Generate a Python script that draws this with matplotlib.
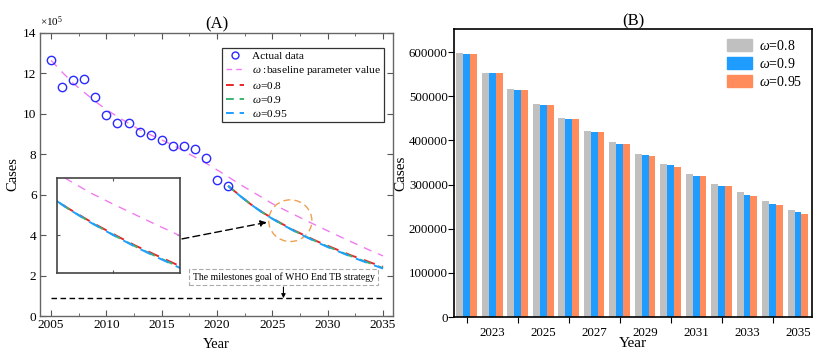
import matplotlib
matplotlib.use("Agg")
import matplotlib.pyplot as plt
import numpy as np
from matplotlib.patches import Ellipse, Patch
from matplotlib.lines import Line2D

plt.rcParams['font.family'] = ['Liberation Serif', 'DejaVu Serif']
plt.rcParams['mathtext.fontset'] = 'custom'
plt.rcParams['mathtext.rm'] = 'Liberation Serif'
plt.rcParams['mathtext.it'] = 'Liberation Serif:italic'

# ---------------- data ----------------
actual_years = list(range(2005, 2022))
actual_cases = [12.63, 11.32, 11.66, 11.72, 10.8, 9.95, 9.55, 9.53, 9.08, 8.93,
                8.68, 8.39, 8.38, 8.27, 7.79, 6.72, 6.43]  # x10^5

baseline_years = list(range(2005, 2036))
baseline_cases = [12.63, 12.05, 11.5, 11.05, 10.6, 10.2, 9.85, 9.52, 9.2, 8.95,
                  8.7, 8.45, 8.15, 7.85, 7.55, 7.22, 6.88, 6.53, 6.2, 5.88,
                  5.55, 5.27, 5.0, 4.73, 4.47, 4.21, 3.95, 3.7, 3.45, 3.2, 2.97]

proj_years = list(range(2022, 2036))
omega_08 = [598000, 554000, 516000, 482500, 451500, 422000, 396000, 370000,
            347000, 324500, 301800, 282200, 261800, 243500]
omega_09 = [597000, 553500, 515000, 481000, 449500, 420000, 392700, 367500,
            343500, 320000, 298000, 277000, 257000, 237000]
omega_095 = [597000, 553500, 515000, 480300, 449000, 419000, 391800, 365500,
             340500, 318500, 295800, 274500, 254000, 234500]
start_year = 2021
start_value = 6.43  # x10^5

milestone = 0.88  # x10^5
series_labels = [r'$\omega$=0.8', r'$\omega$=0.9', r'$\omega$=0.95']
baseline_label = r'$\omega$ :baseline parameter value'

# ---------------- figure ----------------
fig = plt.figure(figsize=(8.27, 3.58), dpi=100)
axA = fig.add_axes([0.0484, 0.1173, 0.4268, 0.7914])
axB = fig.add_axes([0.549, 0.1145, 0.4329, 0.8037])

line_colors = ['#e8262a', '#3cb371', '#1e9fff']
pink = '#f07cf0'
data_color = '#2a2aff'

def proj_line(vals):
    return [start_year] + proj_years, [start_value] + [v / 1e5 for v in vals]

def draw_lines(ax, lw=1.4):
    ax.plot(baseline_years, baseline_cases, color=pink, lw=1.0, dashes=(6, 5))
    for vals, c, off in zip([omega_08, omega_09, omega_095], line_colors,
                            [0, 2, 4]):
        x, y = proj_line(vals)
        ax.plot(x, y, color=c, lw=lw, linestyle=(off, (6, 4)))

axA.plot(actual_years, actual_cases, 'o', mfc='none', mec=data_color, mew=1.0,
         ms=6, zorder=5)
draw_lines(axA)
axA.plot([2005, 2035], [milestone, milestone], color='k', lw=1.0,
         dashes=(4, 2.5))

axA.set_xlim(2004.0, 2035.9)
axA.set_ylim(0, 14)
axA.set_xticks(range(2005, 2036, 5))
axA.set_xticks(np.arange(2007.5, 2035, 5), minor=True)
axA.set_yticks(range(0, 15, 2))
axA.tick_params(direction='in', top=True, right=True, labelsize=9.5, length=4,
                color='#555555', pad=2.5)
axA.tick_params(which='minor', direction='in', top=True, right=True, length=2.5,
                color='#555555')
for s in axA.spines.values():
    s.set_color('#666666')
    s.set_linewidth(1.0)
axA.set_xlabel('Year', fontsize=10.5, labelpad=5)
axA.set_ylabel('Cases', fontsize=10.5, labelpad=3)
axA.set_title('(A)', fontsize=12, pad=1)
axA.text(0.0, 1.012, r'$\times10^5$', transform=axA.transAxes, fontsize=8,
         ha='left', va='bottom')

leg_handles = [Line2D([], [], ls='none', marker='o', mfc='none', mec=data_color,
                      mew=1.0, ms=5, label='Actual data'),
               Line2D([], [], color=pink, lw=1.0, dashes=(4, 3),
                      label=baseline_label)]
for c, lab in zip(line_colors, series_labels):
    leg_handles.append(Line2D([], [], color=c, lw=1.4, dashes=(4, 3), label=lab))
legA = axA.legend(handles=leg_handles, loc='upper right',
                  bbox_to_anchor=(384 / 827, 1 - 48 / 358),
                  bbox_transform=fig.transFigure, fontsize=8.2, frameon=True,
                  fancybox=False, edgecolor='black', handlelength=1.6,
                  borderpad=0.3, labelspacing=0.25, handletextpad=0.7,
                  borderaxespad=0, numpoints=1)
legA.get_frame().set_linewidth(0.9)

# circle around zoom region
axA.add_patch(Ellipse((2026.62, 4.71), 3.9, 2.06, fill=False,
                      edgecolor='#f0a050', lw=1.0, linestyle=(0, (5, 3))))
# arrow from inset to circle
axA.annotate('', xy=(2024.5, 4.63), xytext=(2016.83, 3.81),
             arrowprops=dict(arrowstyle='-|>', color='k', lw=1.0,
                             linestyle=(0, (5, 3)), mutation_scale=9,
                             shrinkA=0, shrinkB=0))
# milestone text
axA.text(2026.0, 1.92, 'The milestones goal of WHO End TB strategy', fontsize=7,
         ha='center', va='center',
         bbox=dict(boxstyle='square,pad=0.35', fc='white', ec='#aaaaaa',
                   ls=(0, (4, 2)), lw=0.8))
axA.annotate('', xy=(2026.0, milestone), xytext=(2026.0, 1.43),
             arrowprops=dict(arrowstyle='-|>', color='k', lw=0.8,
                             mutation_scale=6, shrinkA=0, shrinkB=0))

# inset
axI = fig.add_axes([0.0689, 0.2366, 0.1488, 0.2654])
draw_lines(axI, lw=1.4)
axI.set_xlim(2023.5, 2029.0)
axI.set_ylim(3.52, 5.92)
axI.set_xticks([2026])
axI.set_yticks([4.5])
axI.tick_params(direction='in', top=True, right=True, labelbottom=False,
                labelleft=False, length=2.5, color='#555555')
for s in axI.spines.values():
    s.set_color('#444444')
    s.set_linewidth(1.2)

# ---------------- panel B ----------------
bar_colors = ['#c0c0c0', '#1e9cff', '#ff8c5a']
w = 0.27
x = np.array(proj_years)
for i, (vals, c) in enumerate(zip([omega_08, omega_09, omega_095], bar_colors)):
    axB.bar(x + (i - 1) * w, vals, width=w, color=c, linewidth=0)

axB.set_xlim(2021.5, 2035.55)
axB.set_ylim(0, 652000)
axB.set_yticks(range(0, 600001, 100000))
axB.set_xticks(range(2022, 2036, 2))
axB.set_xticklabels([])
axB.set_xticks(range(2023, 2036, 2), minor=True)
axB.set_xticklabels([str(y) for y in range(2023, 2036, 2)], minor=True)
axB.tick_params(axis='x', which='major', direction='out', length=4)
axB.tick_params(axis='x', which='minor', length=0, labelsize=9.3, pad=7)
axB.tick_params(axis='y', direction='out', length=4, labelsize=9.3, pad=0.5)
for s in axB.spines.values():
    s.set_linewidth(1.2)
axB.set_xlabel('Year', fontsize=11, labelpad=-1)
axB.set_ylabel('Cases', fontsize=11, labelpad=1)
axB.set_title('(B)', fontsize=12, pad=2)
handles = [Patch(color=c, label=l) for c, l in zip(bar_colors, series_labels)]
axB.legend(handles=handles, loc='upper right',
           bbox_to_anchor=(802 / 827, 1 - 39 / 358),
           bbox_transform=fig.transFigure, frameon=False, fontsize=10,
           handlelength=1.75, handleheight=0.95, labelspacing=0.28,
           handletextpad=0.5, borderaxespad=0, borderpad=0)

fig.savefig('out.png', dpi=100)
